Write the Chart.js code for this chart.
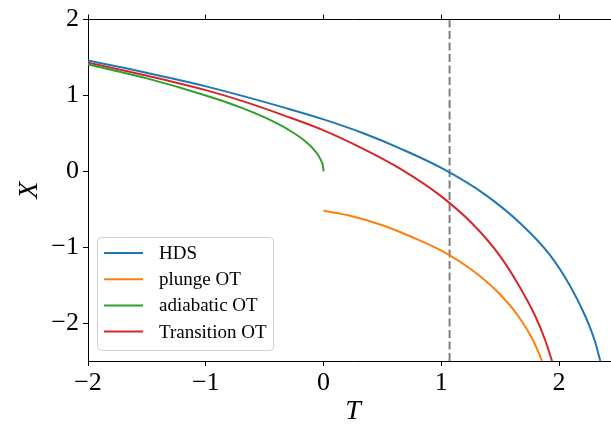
<!DOCTYPE html>
<html>
<head>
<meta charset="utf-8">
<script src="https://cdn.jsdelivr.net/npm/chart.js@4/dist/chart.umd.min.js"></script>
<style>
html, body { margin: 0; padding: 0; overflow: hidden; background: #fff; }
#wrap { width: 618px; height: 425px; }
</style>
</head>
<body>
<div id="wrap"><canvas id="c" width="618" height="425"></canvas></div>
<script>
// ---- data ----
const seriesNames = ['HDS', 'plunge OT', 'adiabatic OT', 'Transition OT'];
const seriesColors = ['#1f77b4', '#ff7f0e', '#2ca02c', '#d62728'];

const hdsT = [-2.0, -1.667, -1.333, -1.0, -0.667, -0.333, 0.0, 0.333, 0.667, 1.0, 1.366, 1.681, 1.921, 2.09, 2.22, 2.30, 2.35];
const hdsX = [1.46, 1.355, 1.24, 1.12, 0.985, 0.84, 0.685, 0.505, 0.29, 0.045, -0.3, -0.7, -1.1, -1.5, -1.9, -2.22, -2.5];

const plungeT = [0.0, 0.25, 0.5, 0.75, 1.0, 1.26, 1.485, 1.65, 1.78, 1.855];
const plungeX = [-0.52, -0.595, -0.71, -0.865, -1.045, -1.3, -1.6, -1.9, -2.23, -2.5];

const adiabaticT = [-2.0, -1.5, -1.0, -0.7, -0.5, -0.3, -0.15, -0.06, -0.02, -0.005, 0.0];
const adiabaticX = [1.41, 1.225, 1.0, 0.84, 0.71, 0.55, 0.39, 0.245, 0.14, 0.07, 0.0];

const transitionT = [-2.0, -1.667, -1.333, -1.0, -0.667, -0.333, 0.0, 0.333, 0.667, 1.0, 1.27, 1.491, 1.657, 1.795, 1.876, 1.94];
const transitionX = [1.43, 1.32, 1.20, 1.07, 0.915, 0.735, 0.54, 0.30, 0.02, -0.33, -0.7, -1.1, -1.5, -1.9, -2.2, -2.5];

const markerT = 1.07;               // vertical dashed line position
const xTicks = [-2, -1, 0, 1, 2];
const yTicks = [-2, -1, 0, 1, 2];
const xRange = [-2, 2.5];
const yRange = [-2.5, 2];

// ---- build chart ----
function pts(ts, xs) { return ts.map((t, i) => ({ x: t, y: xs[i] })); }
const seriesData = [pts(hdsT, hdsX), pts(plungeT, plungeX), pts(adiabaticT, adiabaticX), pts(transitionT, transitionX)];

const datasets = seriesData.map((d, i) => ({
  label: seriesNames[i],
  data: d,
  borderColor: seriesColors[i],
  backgroundColor: seriesColors[i],
  borderWidth: 2,
  pointRadius: 0,
  cubicInterpolationMode: 'monotone',
  capBezierPoints: false,
  fill: false
}));
datasets.push({
  label: '_marker',
  data: [{ x: markerT, y: yRange[0] }, { x: markerT, y: yRange[1] }],
  borderColor: '#7f7f7f',
  borderWidth: 2,
  borderDash: [8, 3.5],
  pointRadius: 0,
  fill: false
});

const fmt = v => (v < 0 ? '\u2212' + Math.abs(v) : String(v));
const keepTicks = list => scale => { scale.ticks = list.map(v => ({ value: v })); };

const serif = '"Liberation Serif", "DejaVu Serif", serif';

const legendPlugin = {
  id: 'boxLegend',
  afterDraw(chart) {
    const ctx = chart.ctx;
    const bx = 97.5, by = 237.5, bw = 176, bh = 113, r = 4;
    ctx.save();
    ctx.beginPath();
    ctx.moveTo(bx + r, by);
    ctx.arcTo(bx + bw, by, bx + bw, by + bh, r);
    ctx.arcTo(bx + bw, by + bh, bx, by + bh, r);
    ctx.arcTo(bx, by + bh, bx, by, r);
    ctx.arcTo(bx, by, bx + bw, by, r);
    ctx.closePath();
    ctx.fillStyle = 'rgba(255,255,255,0.8)';
    ctx.fill();
    ctx.strokeStyle = '#d0d0d0';
    ctx.lineWidth = 1;
    ctx.stroke();
    ctx.font = '19px ' + serif;
    ctx.textBaseline = 'middle';
    ctx.fillStyle = '#000';
    seriesNames.forEach((name, i) => {
      const y = 253 + i * 26.2;
      ctx.beginPath();
      ctx.moveTo(104, y);
      ctx.lineTo(143, y);
      ctx.strokeStyle = seriesColors[i];
      ctx.lineWidth = 2;
      ctx.stroke();
      ctx.fillText(name, 159, y + 1);
    });
    ctx.restore();
  }
};

new Chart(document.getElementById('c'), {
  type: 'line',
  data: { datasets },
  options: {
    responsive: false,
    animation: false,
    devicePixelRatio: 1,
    layout: { padding: 0 },
    plugins: { legend: { display: false }, tooltip: { enabled: false } },
    scales: {
      x: {
        type: 'linear', position: 'bottom',
        min: xRange[0], max: xRange[1],
        afterBuildTicks: keepTicks(xTicks),
        afterFit: s => { s.height = 64; },
        ticks: { color: '#000', font: { family: serif, size: 26 }, padding: 2, maxRotation: 0, callback: fmt },
        grid: { drawOnChartArea: false, drawTicks: true, tickLength: 5, color: '#000', lineWidth: 1 },
        border: { display: true, color: '#000', width: 1 },
        title: { display: true, text: 'T', color: '#000', font: { family: serif, size: 28, style: 'italic' }, padding: { top: 0, bottom: -3 } }
      },
      x2: {
        type: 'linear', position: 'top',
        min: xRange[0], max: xRange[1],
        afterBuildTicks: keepTicks(xTicks),
        afterFit: s => { s.height = 16; },
        ticks: { display: false },
        grid: { drawOnChartArea: false, drawTicks: true, tickLength: 5, color: '#000', lineWidth: 1 },
        border: { display: true, color: '#000', width: 1 }
      },
      y: {
        type: 'linear', position: 'left',
        min: yRange[0], max: yRange[1],
        afterBuildTicks: keepTicks(yTicks),
        afterFit: s => { s.width = 88; },
        ticks: { color: '#000', font: { family: serif, size: 26 }, padding: 4, callback: fmt },
        grid: { drawOnChartArea: false, drawTicks: true, tickLength: 5, color: '#000', lineWidth: 1 },
        border: { display: true, color: '#000', width: 1 },
        title: { display: true, text: 'X', color: '#000', font: { family: serif, size: 28, style: 'italic' }, padding: { top: 13, bottom: 0 } }
      }
    }
  },
  plugins: [legendPlugin]
});
</script>
</body>
</html>
